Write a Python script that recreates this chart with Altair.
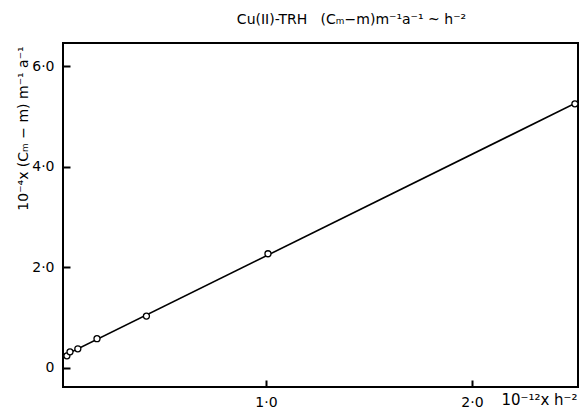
import altair as alt
import pandas as pd

# data
h_inv2 = [0.034, 0.049, 0.087, 0.18, 0.42, 1.01, 2.50]
cm_term = [0.24, 0.32, 0.38, 0.58, 1.03, 2.27, 5.25]
x_ticks = [1.0, 2.0]
y_ticks = [0.0, 2.0, 4.0, 6.0]
x_domain = [0.015, 2.515]
y_domain = [-0.38, 6.46]
fit_extent = [0.0, 2.55]

df = pd.DataFrame({"x": h_inv2, "y": cm_term})

FONT = "DejaVu Sans"
lab_expr = "datum.value == 0 ? '0' : replace(format(datum.value, '.1f'), '.', '\u00b7')"

xs = alt.Scale(domain=x_domain, nice=False, zero=False)
ys = alt.Scale(domain=y_domain, nice=False, zero=False)

x_axis = alt.Axis(values=x_ticks, labelExpr=lab_expr, domain=False, grid=False,
                  offset=-7, tickSize=7, tickWidth=2, tickColor="black",
                  labelPadding=8, labelFontSize=14, labelFont=FONT, labelColor="black",
                  title="10\u207b\u00b9\u00b2x h\u207b\u00b2", titleFont=FONT, titleFontSize=15,
                  titleFontWeight="normal", titleColor="black",
                  titleAnchor="end", titleAlign="right", titleX=514, titleY=24,
                  titleBaseline="alphabetic")
y_axis = alt.Axis(values=y_ticks, labelExpr=lab_expr, domain=False, grid=False,
                  offset=-7, tickSize=7, tickWidth=2, tickColor="black",
                  labelPadding=9, labelFontSize=14, labelFont=FONT, labelColor="black",
                  title="10\u207b\u2074x (C\u2098 \u2212 m) m\u207b\u00b9 a\u207b\u00b9",
                  titleFont=FONT, titleFontSize=14, titleFontWeight="normal",
                  titleColor="black", titleX=-40, titleY=85, titleAngle=-90,
                  titleAlign="center", titleBaseline="bottom")

base = alt.Chart(df)

fit = base.transform_regression("x", "y", extent=fit_extent).mark_line(
    color="black", strokeWidth=1.6, clip=True
).encode(
    x=alt.X("x:Q", scale=xs, axis=x_axis),
    y=alt.Y("y:Q", scale=ys, axis=y_axis),
)

pts = base.mark_point(shape="circle", size=36, filled=True, fill="white",
                      stroke="black", strokeWidth=1.3, opacity=1).encode(
    x=alt.X("x:Q", scale=xs),
    y=alt.Y("y:Q", scale=ys),
)

chart = alt.layer(fit, pts).properties(
    width=515, height=344,
    title=alt.TitleParams(
        "Cu(II)-TRH\u00a0\u00a0\u00a0(C\u2098\u2212m)m\u207b\u00b9a\u207b\u00b9 ~ h\u207b\u00b2",
        font=FONT, fontSize=14, fontWeight="normal", color="black",
        anchor="middle", dx=31, offset=16),
    padding={"left": 55, "top": 35, "right": 1, "bottom": 24},
    autosize=alt.AutoSizeParams(type="none"),
    background="white",
).configure_view(stroke="black", strokeWidth=2)

chart.save("out.html", embed_options={"renderer": "svg", "actions": False})
